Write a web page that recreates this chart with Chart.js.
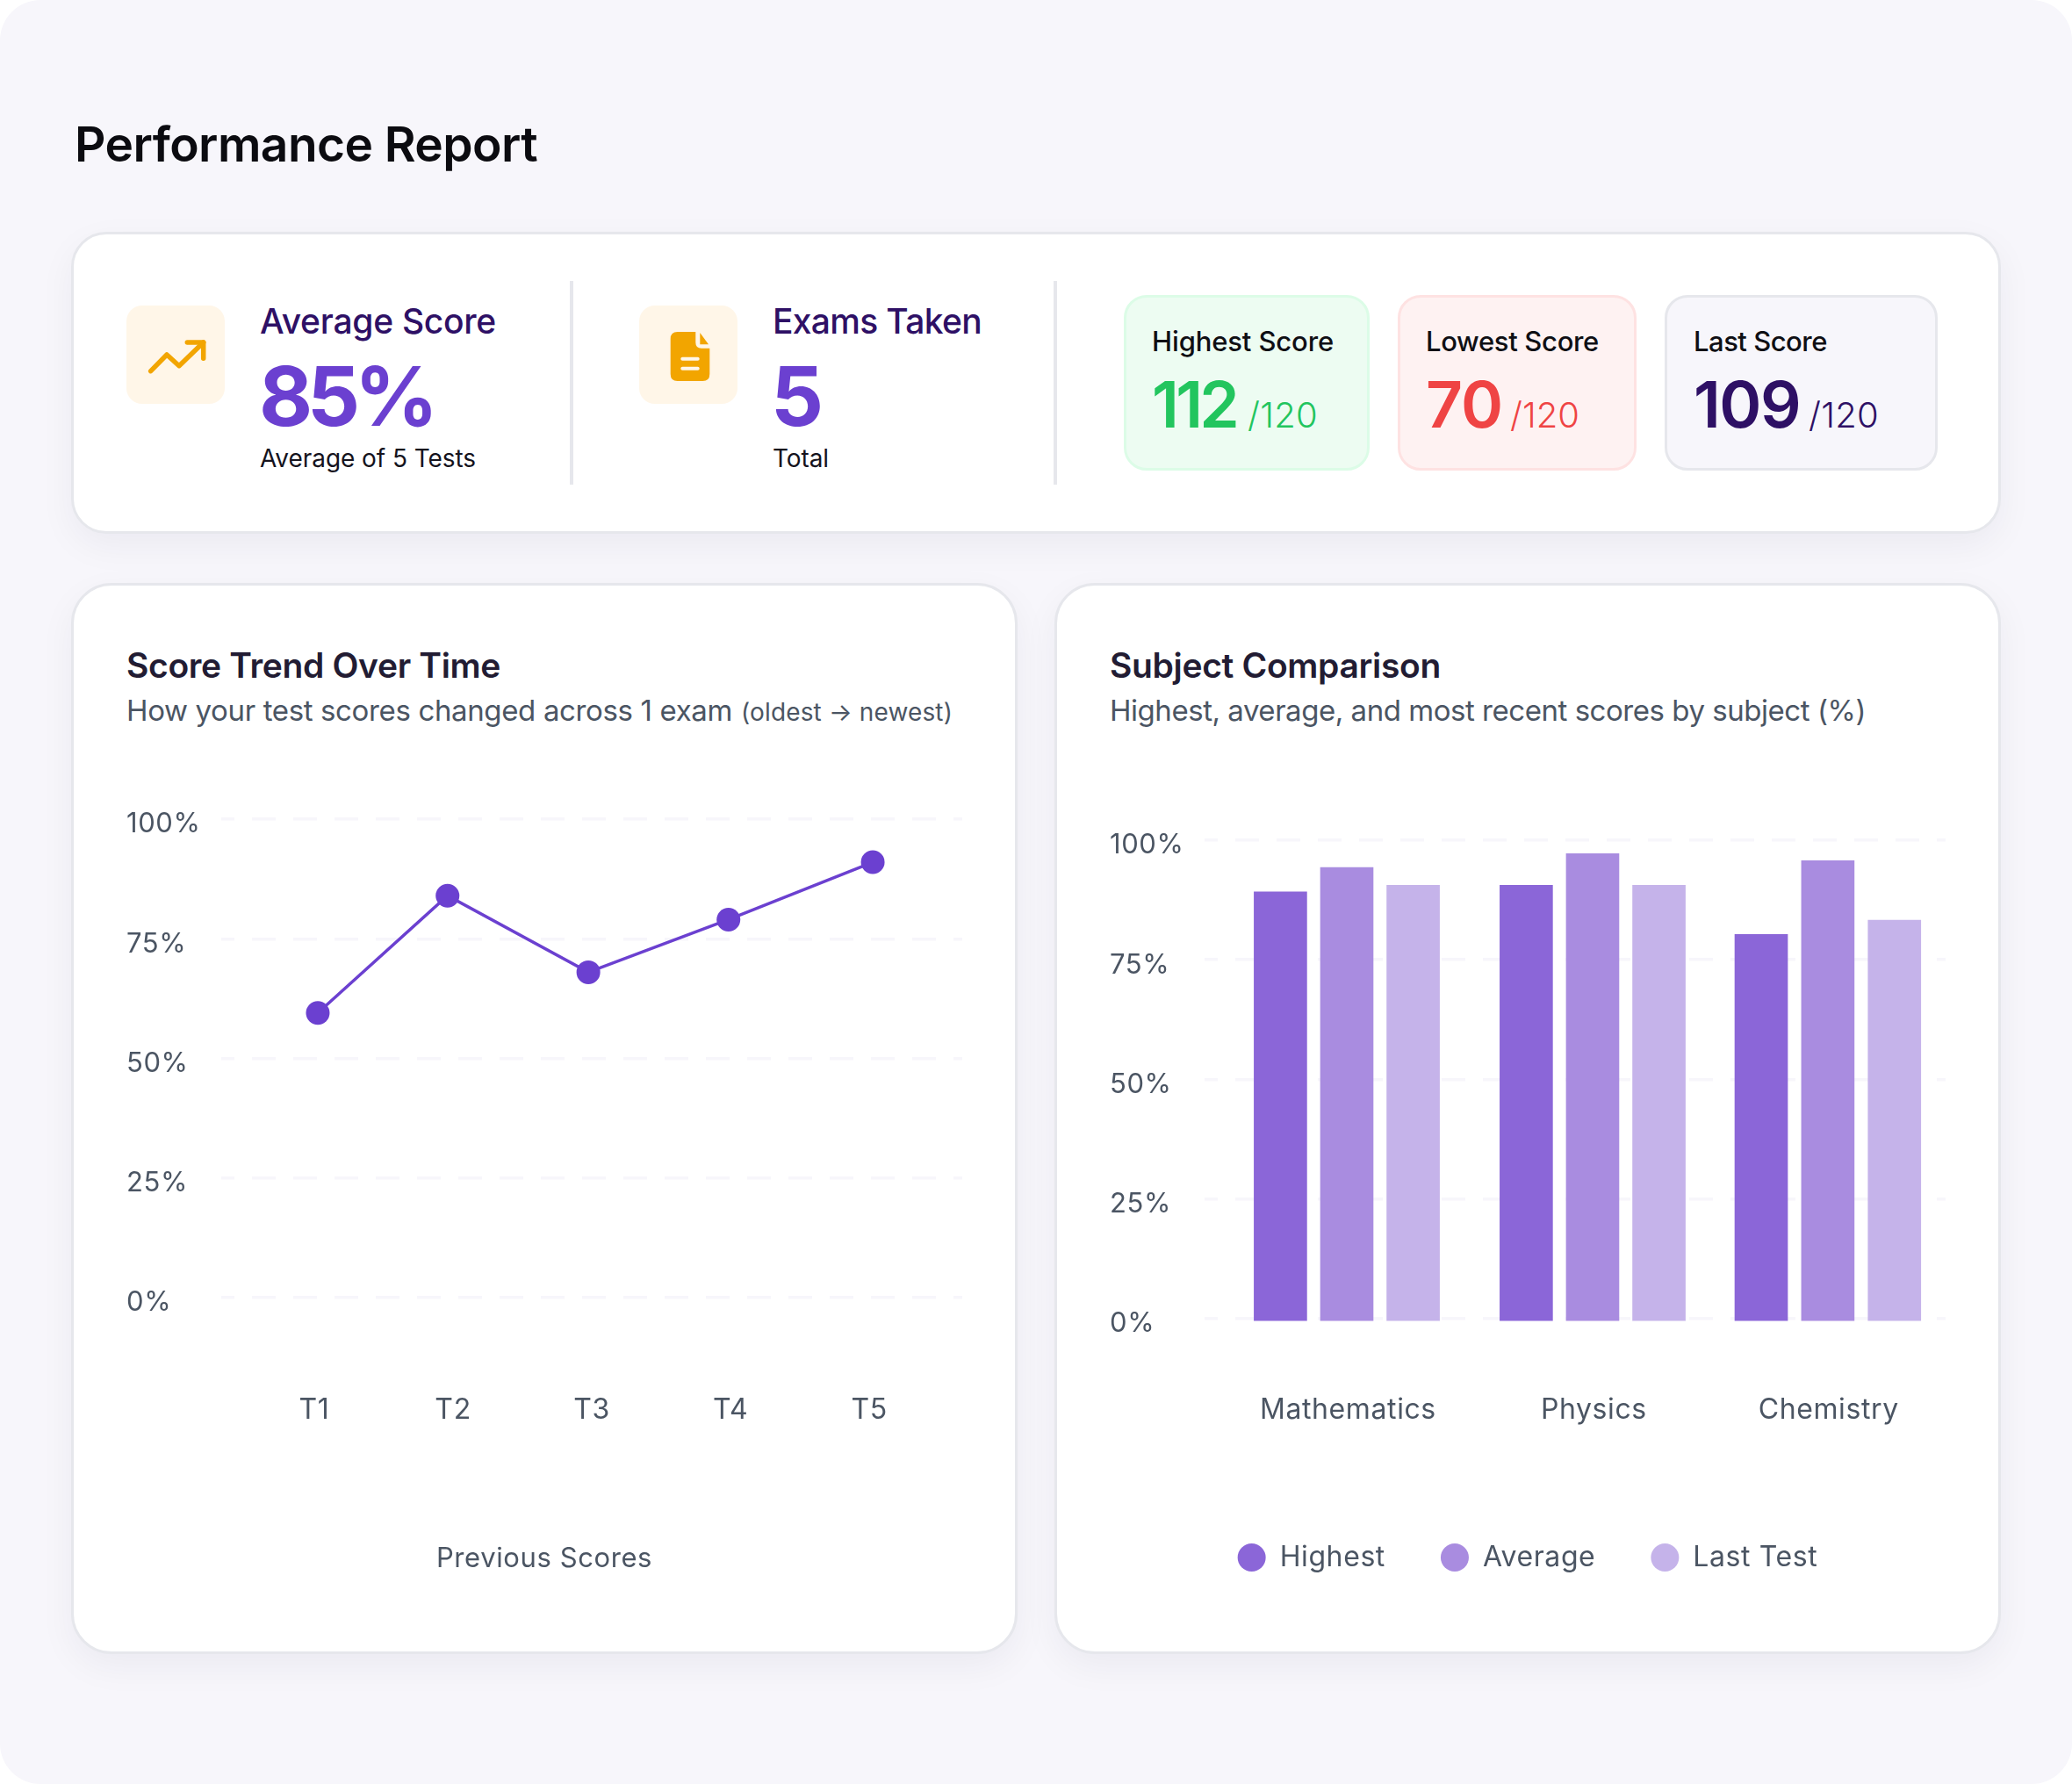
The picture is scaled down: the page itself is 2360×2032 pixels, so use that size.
<!DOCTYPE html>
<html>
<head>
<meta charset="utf-8">
<title>Performance Report</title>
<script src="https://cdn.jsdelivr.net/npm/chart.js@4/dist/chart.umd.min.js"></script>
<style>
  html, body { margin: 0; padding: 0; background: #fff; }
  #page { position: relative; width: 2360px; height: 2032px; background: #f7f6fb; border-radius: 46px; overflow: hidden; font-family: Inter, sans-serif; }
  .t { position: absolute; line-height: 0; white-space: nowrap; }
  .card { position: absolute; box-sizing: border-box; background: #fff; border: 3.5px solid #e6e7ec; box-shadow: 0 14px 40px rgba(25, 20, 60, .05); }
  .tile { position: absolute; box-sizing: border-box; border-width: 3.5px; border-style: solid; border-radius: 26px; }
  .icon { position: absolute; width: 112px; height: 112px; top: 348px; background: #fff6e8; border-radius: 18px; }
  .rule { position: absolute; width: 3.5px; top: 320px; height: 232px; background: #e6e7ec; }
  canvas { position: absolute; }
</style>
</head>
<body>
<div id="page">
  <div class="card" style="left:81px;top:264px;width:2198px;height:344px;border-radius:40px"></div>
  <div class="card" style="left:81px;top:664px;width:1078px;height:1220px;border-radius:46px"></div>
  <div class="card" style="left:1201px;top:664px;width:1078px;height:1220px;border-radius:46px"></div>

  <div class="icon" style="left:144px">
    <svg width="112" height="112" viewBox="0 0 112 112" fill="none" stroke="#f2a500" stroke-width="5.500" stroke-linecap="round" stroke-linejoin="round">
      <path d="M27.700 74.700 L46 56 L60 68.700 L87.700 42"/><path d="M69.300 42 H87.700 V60.300"/>
    </svg>
  </div>
  <div class="icon" style="left:728px">
    <svg width="112" height="112" viewBox="0 0 112 112">
      <path fill="#f2a500" d="M43.700 30 H64.300 V42 Q64.300 48.700 71 48.700 H80.300 V78 Q80.300 86 72.300 86 H43.700 Q35.700 86 35.700 78 V38 Q35.700 30 43.700 30 Z"/>
      <path fill="#f2a500" d="M69.300 31 L79 44.300 H69.300 Z"/>
      <rect x="47.300" y="58.700" width="21.400" height="4" rx="2" fill="#fff6e8"/>
      <rect x="47.300" y="69.700" width="21.400" height="4" rx="2" fill="#fff6e8"/>
    </svg>
  </div>
  <div class="rule" style="left:649px"></div>
  <div class="rule" style="left:1200px"></div>

  <div class="tile" style="left:1280px;top:336px;width:280px;height:200px;background:#edfcf2;border-color:#dcfce7"></div>
  <div class="tile" style="left:1592px;top:336px;width:272px;height:200px;background:#fef2f2;border-color:#fee2e2"></div>
  <div class="tile" style="left:1896px;top:336px;width:311px;height:200px;background:#f7f6fb;border-color:#e6e7ec"></div>

  <canvas id="trend" width="1076" height="940" style="left:82px;top:900px"></canvas>
  <canvas id="subjects" width="1076" height="920" style="left:1202px;top:920px"></canvas>
</div>

<script>
// ---------------------------------------------------------------------------
// Data
// ---------------------------------------------------------------------------

const percentTicks = [0, 25, 50, 75, 100];

const testLabels = ['T1', 'T2', 'T3', 'T4', 'T5'];
const testTicks = [1, 2, 3, 4, 5];
const testPositions = [1.025, 1.96, 2.975, 3.985, 5.025];
const testScores = [59.5, 84, 68, 79, 91];

const subjects = ['Mathematics', 'Physics', 'Chemistry'];
const subjectTicks = [1.005, 2.005, 2.96];
const highestX = [0.73, 1.73, 2.686];
const averageX = [1, 2, 2.957];
const lastX = [1.27, 2.27, 3.228];
const highest = [89.2, 90.6, 80.3];
const average = [94.3, 97.2, 95.7];
const lastTest = [90.6, 90.6, 83.3];

// ---------------------------------------------------------------------------
// Page text
// ---------------------------------------------------------------------------

const page = document.getElementById('page');

// x / baseline in px, w = width the run should come out at
function text(str, x, base, size, weight, color, w) {
  const el = document.createElement('div');
  el.className = 't';
  el.textContent = str;
  el.style.cssText = `left:${x}px;top:${base - 0.364 * size}px;font-size:${size}px;font-weight:${weight};color:${color}`;
  page.appendChild(el);
  if (w) {
    const have = el.getBoundingClientRect().width;
    el.style.letterSpacing = ((w - have) / str.length).toFixed(3) + 'px';
  }
}

const ink = '#2e1065', violet = '#6b40d0', slate = '#4b5563', dark = '#221c33';

text('Performance Report', 85, 184, 55, 600, '#0b0b10', 527);

text('Average Score', 296, 380, 39, 500, ink, 269);
text('85%', 295, 485, 94, 700, violet, 198);
text('Average of 5 Tests', 296, 532, 28, 400, '#15131d', 246);

text('Exams Taken', 880, 380, 39, 500, ink, 238);
text('5', 878, 485, 94, 700, violet);
text('Total', 880, 532, 28, 400, '#15131d', 64);

text('Highest Score', 1312, 400, 31, 500, '#0f0f14', 207);
text('112', 1312, 488, 73, 600, '#22c55e', 96);
text('/120', 1421, 488, 40, 300, '#22c55e', 80);

text('Lowest Score', 1624, 400, 31, 500, '#0f0f14', 197);
text('70', 1624, 488, 73, 600, '#ef4444', 87);
text('/120', 1720, 488, 40, 300, '#ef4444', 79);

text('Last Score', 1929, 400, 31, 500, '#0f0f14', 152);
text('109', 1929, 488, 73, 600, ink, 121);
text('/120', 2060, 488, 40, 300, ink, 80);

text('Score Trend Over Time', 144, 772, 39, 600, dark, 426);
text('How your test scores changed across 1 exam', 144, 821, 33, 400, slate, 690);
text('(oldest \u2192 newest)', 844, 821, 28, 400, slate, 241);

text('Subject Comparison', 1264, 772, 39, 600, dark, 377);
text('Highest, average, and most recent scores by subject (%)', 1264, 821, 33, 400, slate, 861);

// ---------------------------------------------------------------------------
// Charts
// ---------------------------------------------------------------------------

Chart.defaults.font.family = 'Inter, sans-serif';
Chart.defaults.font.size = 32;
Chart.defaults.color = slate;

const spacing = {
  id: 'spacing',
  beforeUpdate(c) { c.ctx.letterSpacing = '0.6px'; },
  beforeLayout(c) { c.ctx.letterSpacing = '0.6px'; },
  beforeDraw(c) { c.ctx.letterSpacing = '0.6px'; },
};

function yAxis() {
  return {
    min: 0, max: 100,
    afterFit(s) { s.width = 108; },
    afterBuildTicks(s) { s.ticks = percentTicks.map(v => ({ value: v })); },
    // the empty first line nudges the label a little under its grid line
    ticks: { crossAlign: 'far', padding: 0, font: { size: 31, lineHeight: 12 / 31 }, callback: v => ['', v + '%'] },
    border: { display: false, dash: [27, 20], dashOffset: 12 },
    grid: { color: '#f7f6fb', lineWidth: 3.5, drawTicks: false },
  };
}

function xAxis(min, max, height, pad, tickVals, labels) {
  return {
    type: 'linear', min, max, offset: false,
    afterFit(s) { s.height = height; },
    afterBuildTicks(s) { s.ticks = tickVals.map(v => ({ value: v })); },
    ticks: { autoSkip: false, maxRotation: 0, padding: pad, callback: (v, i) => labels[i] },
    border: { display: false },
    grid: { display: false },
  };
}

new Chart(document.getElementById('trend'), {
  type: 'line',
  plugins: [spacing],
  data: {
    datasets: [{
      label: 'Previous Scores',
      data: testPositions.map((x, i) => ({ x, y: testScores[i] })),
      borderColor: violet, backgroundColor: violet, borderWidth: 3.5,
      pointRadius: 13.5, pointBackgroundColor: violet, pointBorderWidth: 0, tension: 0, clip: false,
    }],
  },
  options: {
    responsive: false, animation: false, devicePixelRatio: 1,
    layout: { autoPadding: false, padding: { left: 62, right: 62, top: 33, bottom: 33 } },
    plugins: {
      tooltip: { enabled: false },
      legend: {
        position: 'bottom',
        title: { display: true, text: 'Previous Scores', color: slate, font: { size: 31 } },
        labels: { filter: () => false },
      },
    },
    scales: { x: xAxis(0.329, 5.67, 281.8, 101.5, testTicks, testLabels), y: yAxis() },
  },
});

function barSet(label, xs, ys, color) {
  return {
    label, backgroundColor: color, borderWidth: 0, grouped: false,
    barThickness: 60, base: -0.45, clip: false,
    data: xs.map((x, i) => ({ x, y: ys[i] })),
  };
}

new Chart(document.getElementById('subjects'), {
  type: 'bar',
  plugins: [spacing],
  data: {
    datasets: [
      barSet('Highest', highestX, highest, '#8b66d8'),
      barSet('Average', averageX, average, '#a98ce0'),
      barSet('Last Test', lastX, lastTest, '#c5b3ea'),
    ],
  },
  options: {
    responsive: false, animation: false, devicePixelRatio: 1,
    layout: { autoPadding: false, padding: { left: 62, right: 62, top: 37, bottom: 40 } },
    plugins: {
      tooltip: { enabled: false },
      legend: {
        position: 'bottom',
        labels: { usePointStyle: true, pointStyle: 'circle', pointStyleWidth: 32, boxHeight: 22.6, padding: 63, color: slate, font: { size: 32 } },
      },
    },
    scales: { x: xAxis(0.4214, 3.436, 193.2, 77.5, subjectTicks, subjects), y: yAxis() },
  },
});
</script>
</body>
</html>
